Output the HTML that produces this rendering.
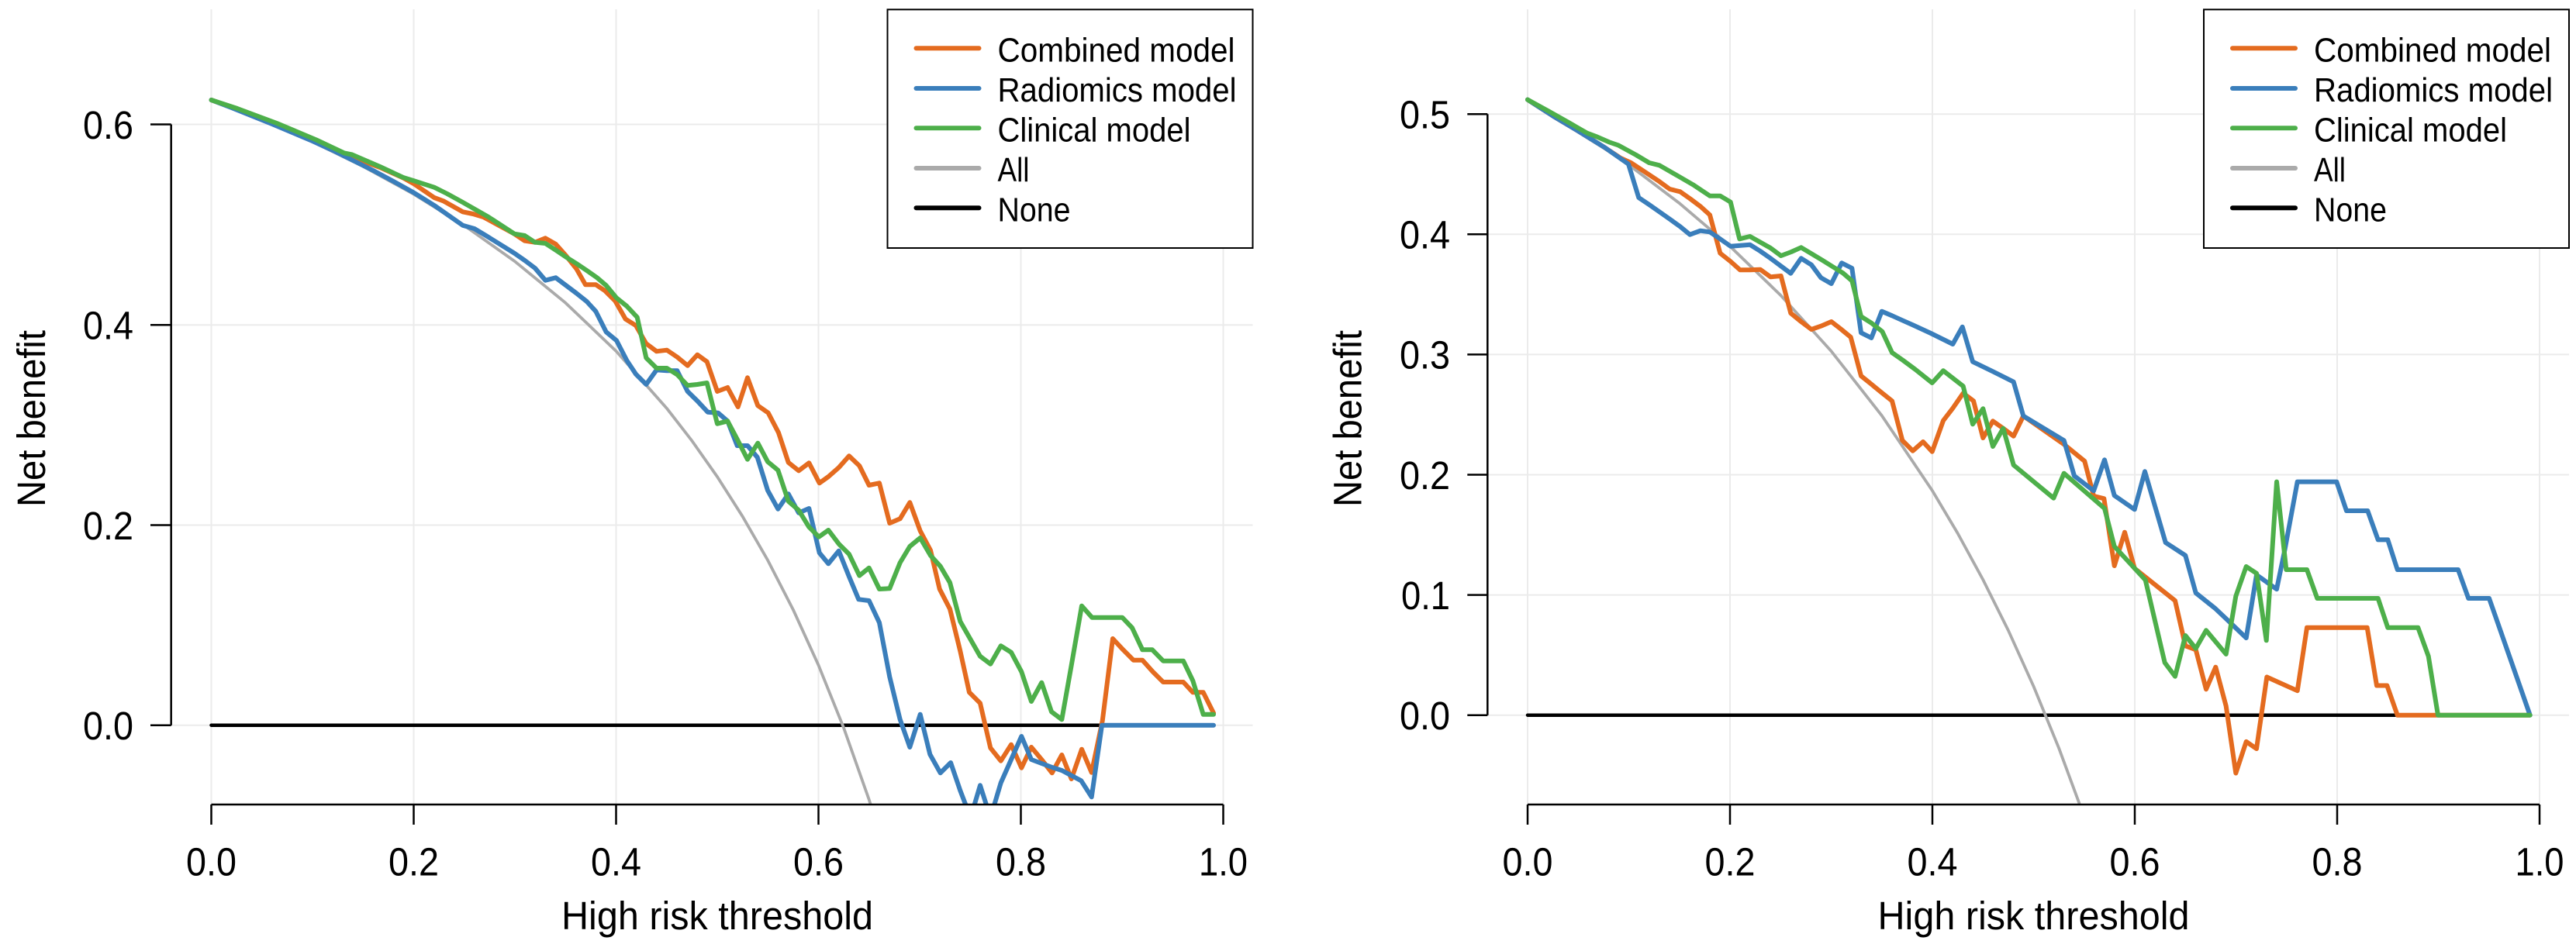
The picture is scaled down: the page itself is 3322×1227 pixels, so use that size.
<!DOCTYPE html>
<html>
<head>
<meta charset="utf-8">
<style>
html,body{margin:0;padding:0;background:#fff;}
svg{display:block;}
text{font-family:"Liberation Sans","DejaVu Sans",sans-serif;fill:#000;}
</style>
</head>
<body>
<svg width="3322" height="1227" viewBox="0 0 3322 1227" xmlns="http://www.w3.org/2000/svg">
<defs>
<clipPath id="cl"><rect x="0" y="0" width="1660" height="1038"/></clipPath>
<clipPath id="cr"><rect x="1660" y="0" width="1662" height="1038"/></clipPath>
</defs>
<rect x="0" y="0" width="3322" height="1227" fill="#fff"/>

<!-- ============ LEFT PANEL ============ -->
<g stroke="#ebebeb" stroke-width="2" fill="none">
<line x1="272.5" y1="12" x2="272.5" y2="1038"/>
<line x1="533.5" y1="12" x2="533.5" y2="1038"/>
<line x1="794.5" y1="12" x2="794.5" y2="1038"/>
<line x1="1055.5" y1="12" x2="1055.5" y2="1038"/>
<line x1="1316.5" y1="12" x2="1316.5" y2="1038"/>
<line x1="1577.5" y1="12" x2="1577.5" y2="1038"/>
<line x1="220.7" y1="160.5" x2="1615.5" y2="160.5"/>
<line x1="220.7" y1="419.3" x2="1615.5" y2="419.3"/>
<line x1="220.7" y1="677.5" x2="1615.5" y2="677.5"/>
<line x1="220.7" y1="935.7" x2="1615.5" y2="935.7"/>
</g>

<g clip-path="url(#cl)" fill="none" stroke-linejoin="round" stroke-linecap="round">
<line x1="272.5" y1="935.7" x2="1565" y2="935.7" stroke="#000" stroke-width="4.5"/>
<polyline stroke="#aaaaaa" stroke-width="3.8" points="272.5,128.9 337.75,154.5 403,182.9 468.25,214.7 533.5,250.5 598.75,291 664,337.3 729.25,390.7 794.5,453 859.75,526.7 892.4,568.8 925,615.1 957.6,666.3 990.25,723.1 1022.9,786.7 1055.5,858.2 1088.1,939.2 1120.75,1031.8 1133.8,1072.7"/>
<polyline stroke="#e46b1f" stroke-width="6" points="272.5,129 357,159.5 444,199 490,216 520,229.5 533,236.7 560,255 571.7,259.3 596.7,273.3 610,276 623.3,280 663.3,301.7 676.7,310.7 690,312.7 703.3,307.3 716.7,315 730,330 743.3,346.7 755,367.3 768.3,367.3 780,375 793.3,388.3 806.7,411.7 820,420 833.3,443.3 846.7,453.3 860,451.7 873.3,460.7 886.7,471.7 899.3,457.7 911.7,466.7 925,505 938.3,500 951.7,525 964,487.3 977.3,523.3 990.7,532.7 1004,558.3 1016.7,596.7 1030,607.3 1043.3,597.3 1056.7,623.3 1068.3,615 1081.7,603.3 1095,588.3 1108.3,601 1120.7,626 1134,623.3 1147.3,675 1160.7,669.3 1173.3,648.3 1186.7,685 1200,710 1211.7,760 1225,785.7 1238.3,840 1250,893.3 1264,907.3 1277.3,965 1290.7,981.7 1304,960.7 1317.3,990.7 1330,964 1343.3,980 1356.7,997.3 1369.3,974 1381.7,1005 1395,966.7 1407.7,996.7 1421.7,930 1435,824 1448.3,838.3 1461.7,851.7 1473.3,851.7 1486.7,866.7 1500,880 1526,880 1538.3,893.3 1551.7,893.3 1565,920"/>
<polyline stroke="#3a7ebb" stroke-width="6" points="272.5,129 298.6,139 324.7,149.5 350.8,160 376.9,171 403,182 429.1,194 455.2,207 481.3,220 507.4,234 533.5,248.5 560,265 596.7,290.7 611.7,295 626.7,304 663.3,326.7 676.7,336 690,346 703.3,361.7 716.7,358.3 730,368.3 743.3,378.3 756.7,389 768.3,401.7 781.7,428.3 795,439.3 808.3,465 820,482.7 833.3,496 846.7,477.3 860,478.3 873.3,478.3 886.7,505 899.3,517.3 912.7,531.7 926,532.7 938.3,543.3 950.7,575 964,575 976.7,590 990,632.7 1003.3,656.7 1016.7,637.3 1030,661.7 1043.3,656 1056.7,713.3 1068.3,727.3 1081.7,710.7 1095,744 1107.3,773.3 1120.7,775 1134,803.3 1147.3,873.3 1160.7,928.3 1173.3,964 1186.7,921.7 1199.3,973.3 1212.7,997.3 1226,984 1238.3,1020 1251.7,1055 1264,1013.3 1277.3,1055 1290.7,1010 1304,980 1317.3,950 1330,980 1343.3,985 1356.7,990 1369.3,994 1394.3,1007.3 1407.7,1028.3 1421,935.7 1565,935.7"/>
<polyline stroke="#4daf4a" stroke-width="6" points="272.5,129 306,140 357,159 408,180.5 444,197.5 454,199.5 490,215 520,229 533,233 560,241.7 576.7,250 596.7,261 630,280 663.3,301.7 676.7,304 690,312.7 703.3,314 716.7,322.7 730,331.7 743.3,340 756.7,349 770,358.3 781.7,368.3 795,384.3 808.3,395 821.7,409.3 833.3,461.7 846.7,475 860,475 873.3,483.3 886.7,497.3 899.3,496 911.7,494 925,546.7 938.3,543.3 950.7,566.7 964,592.7 977.3,571.7 990,595.7 1003.3,606.7 1016.7,646.7 1030,658.3 1043.3,680 1056,692.7 1068.3,684 1081.7,701.7 1095,715 1108.3,742.7 1120.7,732.7 1134,760 1147.3,759.3 1160.7,726 1173.3,705 1186.7,694 1200,716.7 1212.7,730.7 1225,751.7 1238.3,801.7 1264,846.7 1277.3,856.7 1290.7,833.3 1304,841.7 1317.3,866.7 1330,905 1343.3,880.7 1356,918.3 1369.3,928.3 1381.7,858.3 1395,781.7 1408.3,796.7 1447.3,796.7 1460,810 1473.3,838.3 1486,838.3 1500,852.7 1526,852.7 1538.3,878.3 1551.7,921.7 1565,921.7"/>
</g>

<g stroke="#000" stroke-width="2.5" fill="none">
<line x1="220.7" y1="160.5" x2="220.7" y2="935.7"/>
<line x1="194" y1="160.5" x2="220.7" y2="160.5"/>
<line x1="194" y1="419.3" x2="220.7" y2="419.3"/>
<line x1="194" y1="677.5" x2="220.7" y2="677.5"/>
<line x1="194" y1="935.7" x2="220.7" y2="935.7"/>
<line x1="272.5" y1="1038" x2="1577.5" y2="1038"/>
<line x1="272.5" y1="1038" x2="272.5" y2="1064"/>
<line x1="533.5" y1="1038" x2="533.5" y2="1064"/>
<line x1="794.5" y1="1038" x2="794.5" y2="1064"/>
<line x1="1055.5" y1="1038" x2="1055.5" y2="1064"/>
<line x1="1316.5" y1="1038" x2="1316.5" y2="1064"/>
<line x1="1577.5" y1="1038" x2="1577.5" y2="1064"/>
</g>

<g font-size="51" text-anchor="end">
<text x="172" y="178.8" textLength="65" lengthAdjust="spacingAndGlyphs">0.6</text>
<text x="172" y="437.6" textLength="65" lengthAdjust="spacingAndGlyphs">0.4</text>
<text x="172" y="695.8" textLength="65" lengthAdjust="spacingAndGlyphs">0.2</text>
<text x="172" y="954" textLength="65" lengthAdjust="spacingAndGlyphs">0.0</text>
</g>
<g font-size="51" text-anchor="middle">
<text x="272.5" y="1129.3" textLength="65" lengthAdjust="spacingAndGlyphs">0.0</text>
<text x="533.5" y="1129.3" textLength="65" lengthAdjust="spacingAndGlyphs">0.2</text>
<text x="794.5" y="1129.3" textLength="65" lengthAdjust="spacingAndGlyphs">0.4</text>
<text x="1055.5" y="1129.3" textLength="65" lengthAdjust="spacingAndGlyphs">0.6</text>
<text x="1316.5" y="1129.3" textLength="65" lengthAdjust="spacingAndGlyphs">0.8</text>
<text x="1577.5" y="1129.3" textLength="63" lengthAdjust="spacingAndGlyphs">1.0</text>
<text x="925" y="1199" textLength="402" lengthAdjust="spacingAndGlyphs">High risk threshold</text>
<text transform="translate(58,540) rotate(-90)" textLength="228" lengthAdjust="spacingAndGlyphs">Net benefit</text>
</g>

<!-- left legend -->
<rect x="1144.5" y="12.3" width="471" height="307.7" fill="#fff" stroke="#000" stroke-width="2"/>
<g stroke-width="6" stroke-linecap="round">
<line x1="1181.5" y1="62.3" x2="1262.5" y2="62.3" stroke="#e46b1f"/>
<line x1="1181.5" y1="114" x2="1262.5" y2="114" stroke="#3a7ebb"/>
<line x1="1181.5" y1="165.3" x2="1262.5" y2="165.3" stroke="#4daf4a"/>
<line x1="1181.5" y1="217" x2="1262.5" y2="217" stroke="#aaaaaa"/>
<line x1="1181.5" y1="268.3" x2="1262.5" y2="268.3" stroke="#000"/>
</g>
<g font-size="44">
<text x="1286.5" y="79.3" textLength="306" lengthAdjust="spacingAndGlyphs">Combined model</text>
<text x="1286.5" y="131" textLength="308" lengthAdjust="spacingAndGlyphs">Radiomics model</text>
<text x="1286.5" y="182.3" textLength="249" lengthAdjust="spacingAndGlyphs">Clinical model</text>
<text x="1286.5" y="234" textLength="41" lengthAdjust="spacingAndGlyphs">All</text>
<text x="1286.5" y="285.3" textLength="94" lengthAdjust="spacingAndGlyphs">None</text>
</g>

<!-- ============ RIGHT PANEL ============ -->
<g stroke="#ebebeb" stroke-width="2" fill="none">
<line x1="1970" y1="12" x2="1970" y2="1038"/>
<line x1="2231" y1="12" x2="2231" y2="1038"/>
<line x1="2492" y1="12" x2="2492" y2="1038"/>
<line x1="2753" y1="12" x2="2753" y2="1038"/>
<line x1="3014" y1="12" x2="3014" y2="1038"/>
<line x1="3275" y1="12" x2="3275" y2="1038"/>
<line x1="1918.3" y1="147.2" x2="3313" y2="147.2"/>
<line x1="1918.3" y1="302.3" x2="3313" y2="302.3"/>
<line x1="1918.3" y1="457.4" x2="3313" y2="457.4"/>
<line x1="1918.3" y1="612.5" x2="3313" y2="612.5"/>
<line x1="1918.3" y1="767.6" x2="3313" y2="767.6"/>
<line x1="1918.3" y1="922.7" x2="3313" y2="922.7"/>
</g>

<g clip-path="url(#cr)" fill="none" stroke-linejoin="round" stroke-linecap="round">
<line x1="1970" y1="922.7" x2="3262" y2="922.7" stroke="#000" stroke-width="4.5"/>
<polyline stroke="#aaaaaa" stroke-width="3.8" points="1970,128.6 2035.25,168.4 2100.5,212.7 2165.75,262.2 2231,317.8 2296.25,380.9 2361.5,453 2426.75,536.2 2492,633.2 2524.6,688 2557.25,747.9 2589.9,813.4 2622.5,885.5 2655.1,965.2 2687.75,1053.7"/>
<polyline stroke="#e46b1f" stroke-width="6" points="1970,128.6 2003.3,150 2036.7,170 2070,190.7 2090,204 2103.3,210 2120,221 2140,234.3 2153.3,244 2166.7,247.3 2180,256.7 2193.3,266.7 2205,277.3 2218.3,326.7 2231.7,337.3 2244,348.3 2256.7,348.3 2270,347.7 2283.3,357.3 2296.7,356 2309.3,404 2322.7,415 2336,425 2348.3,420.7 2361.7,415 2373.3,424 2386.7,435 2400,485 2413.3,495.7 2426.7,506.7 2440,517.3 2453.3,568.3 2466.7,581.7 2480,570 2491.7,582.7 2506,542.7 2518.3,526.7 2531.7,507.3 2545,517.3 2557.3,565 2570,543.3 2583.3,552.7 2596.7,562.7 2609.3,536.7 2661.7,573.3 2688.3,595 2700,640 2713.3,643.3 2726.7,730 2740,686.7 2752.7,733.3 2805,775 2818.3,833.3 2831.7,838.3 2845,889.3 2857.3,860.7 2870.7,910.9 2883.3,997.5 2896.7,956.9 2910,966 2923.3,873.5 2962.7,891.2 2975,809.8 3052.7,809.8 3065,884.5 3078.3,884.5 3091.7,922.7 3262,922.7"/>
<polyline stroke="#3a7ebb" stroke-width="6" points="1970,128.6 2003.3,150 2036.7,170 2070,190.7 2100,211.7 2113.3,255 2126.7,264 2140,273.3 2153.3,282.7 2166.7,292.3 2179.3,302.7 2192.7,297.7 2205,299.3 2218.3,308.3 2231.7,317.7 2256.7,315.7 2270,324 2283.3,333.3 2296.7,343.3 2309.3,352.7 2322.7,333.3 2336,341.7 2348.3,358.3 2361.7,366 2375,339.3 2388.3,346 2400,429.3 2413.3,436 2426.7,401.7 2440,407.3 2453.3,413.3 2466.7,419.3 2490,430 2518.3,444 2530.7,421.7 2544,466.7 2570,479.3 2596.7,492.7 2609.3,536.7 2661.7,568.3 2675,614 2700,633.3 2714,593.3 2726.7,639.3 2752.7,657.3 2766,608.3 2792.7,700 2818.3,716.7 2831.7,765 2856.7,785 2873.3,800.7 2896.7,823.1 2910,741.7 2936,760.2 2946.7,708.2 2962.7,621.6 3013.3,621.6 3026,659 3053.3,659 3066.7,696.4 3079.3,696.4 3091.7,735 3170,735 3183.3,772 3210,772 3262.7,922.7"/>
<polyline stroke="#4daf4a" stroke-width="6" points="1970,128.6 1996.7,143.3 2023.3,158.3 2046.7,171.7 2060,176.7 2075,183.3 2086.7,187.3 2110,200 2126.7,210 2140,213.3 2163.3,226.7 2183.3,238.3 2205,252.7 2218.3,252.7 2231.7,260.7 2243.3,308.3 2256.7,305 2283.3,320 2296.7,330 2310,325 2322.7,319.3 2336.7,327.7 2350,335.7 2363.3,344 2376.7,352.3 2388.3,362.3 2400,408.3 2413.3,416.7 2427.3,427.7 2440,455 2453.3,464.3 2470,476.7 2491.7,494 2506,478.3 2531.7,498.3 2544,547.3 2557.3,527.3 2570,576 2583.3,552.7 2596.7,600 2648.3,642.7 2661.7,610.7 2714,656 2726.7,705 2766.7,748.3 2791.7,855 2805,872.7 2818.3,820 2831.7,836.7 2845,813.3 2870.7,844 2883.3,769.2 2896.7,731 2910,739.7 2922.7,826.3 2936,621.6 2948.3,735 2975,735 2988.3,772 3066.7,772 3079.3,809.8 3118.3,809.8 3131.7,846.7 3144,922.7 3262.7,922.7"/>
</g>

<g stroke="#000" stroke-width="2.5" fill="none">
<line x1="1918.3" y1="147.2" x2="1918.3" y2="922.7"/>
<line x1="1892.3" y1="147.2" x2="1918.3" y2="147.2"/>
<line x1="1892.3" y1="302.3" x2="1918.3" y2="302.3"/>
<line x1="1892.3" y1="457.4" x2="1918.3" y2="457.4"/>
<line x1="1892.3" y1="612.5" x2="1918.3" y2="612.5"/>
<line x1="1892.3" y1="767.6" x2="1918.3" y2="767.6"/>
<line x1="1892.3" y1="922.7" x2="1918.3" y2="922.7"/>
<line x1="1970" y1="1038" x2="3275" y2="1038"/>
<line x1="1970" y1="1038" x2="1970" y2="1064"/>
<line x1="2231" y1="1038" x2="2231" y2="1064"/>
<line x1="2492" y1="1038" x2="2492" y2="1064"/>
<line x1="2753" y1="1038" x2="2753" y2="1064"/>
<line x1="3014" y1="1038" x2="3014" y2="1064"/>
<line x1="3275" y1="1038" x2="3275" y2="1064"/>
</g>

<g font-size="51" text-anchor="end">
<text x="1870" y="165.5" textLength="65" lengthAdjust="spacingAndGlyphs">0.5</text>
<text x="1870" y="320.6" textLength="65" lengthAdjust="spacingAndGlyphs">0.4</text>
<text x="1870" y="475.7" textLength="65" lengthAdjust="spacingAndGlyphs">0.3</text>
<text x="1870" y="630.8" textLength="65" lengthAdjust="spacingAndGlyphs">0.2</text>
<text x="1870" y="785.9" textLength="63" lengthAdjust="spacingAndGlyphs">0.1</text>
<text x="1870" y="941" textLength="65" lengthAdjust="spacingAndGlyphs">0.0</text>
</g>
<g font-size="51" text-anchor="middle">
<text x="1970" y="1129.3" textLength="65" lengthAdjust="spacingAndGlyphs">0.0</text>
<text x="2231" y="1129.3" textLength="65" lengthAdjust="spacingAndGlyphs">0.2</text>
<text x="2492" y="1129.3" textLength="65" lengthAdjust="spacingAndGlyphs">0.4</text>
<text x="2753" y="1129.3" textLength="65" lengthAdjust="spacingAndGlyphs">0.6</text>
<text x="3014" y="1129.3" textLength="65" lengthAdjust="spacingAndGlyphs">0.8</text>
<text x="3275" y="1129.3" textLength="63" lengthAdjust="spacingAndGlyphs">1.0</text>
<text x="2622.5" y="1199" textLength="402" lengthAdjust="spacingAndGlyphs">High risk threshold</text>
<text transform="translate(1755.5,540) rotate(-90)" textLength="228" lengthAdjust="spacingAndGlyphs">Net benefit</text>
</g>

<!-- right legend -->
<rect x="2842" y="12.3" width="471" height="307.7" fill="#fff" stroke="#000" stroke-width="2"/>
<g stroke-width="6" stroke-linecap="round">
<line x1="2879" y1="62.3" x2="2960" y2="62.3" stroke="#e46b1f"/>
<line x1="2879" y1="114" x2="2960" y2="114" stroke="#3a7ebb"/>
<line x1="2879" y1="165.3" x2="2960" y2="165.3" stroke="#4daf4a"/>
<line x1="2879" y1="217" x2="2960" y2="217" stroke="#aaaaaa"/>
<line x1="2879" y1="268.3" x2="2960" y2="268.3" stroke="#000"/>
</g>
<g font-size="44">
<text x="2984" y="79.3" textLength="306" lengthAdjust="spacingAndGlyphs">Combined model</text>
<text x="2984" y="131" textLength="308" lengthAdjust="spacingAndGlyphs">Radiomics model</text>
<text x="2984" y="182.3" textLength="249" lengthAdjust="spacingAndGlyphs">Clinical model</text>
<text x="2984" y="234" textLength="41" lengthAdjust="spacingAndGlyphs">All</text>
<text x="2984" y="285.3" textLength="94" lengthAdjust="spacingAndGlyphs">None</text>
</g>
</svg>
</body>
</html>
